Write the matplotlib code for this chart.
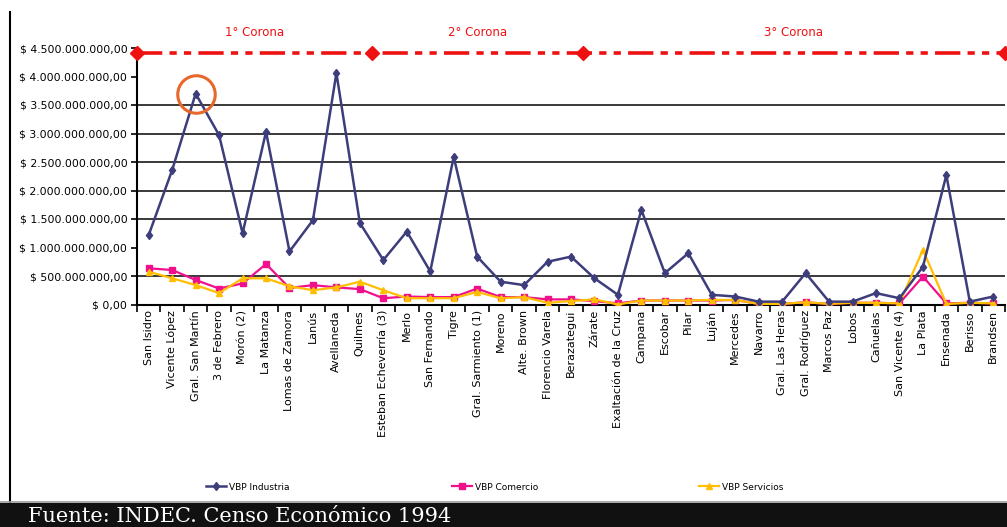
import matplotlib
matplotlib.use("Agg")
import matplotlib.pyplot as plt
from matplotlib.lines import Line2D
from matplotlib.patches import Rectangle
import numpy as np

# ---------------- data ----------------
categories = [
    "San Isidro", "Vicente López", "Gral. San Martín", "3 de Febrero", "Morón (2)",
    "La Matanza", "Lomas de Zamora", "Lanús", "Avellaneda", "Quilmes",
    "Esteban Echeverría (3)", "Merlo", "San Fernando", "Tigre", "Gral. Sarmiento (1)",
    "Moreno", "Alte. Brown", "Florencio Varela", "Berazategui",
    "Zárate", "Exaltación de la Cruz", "Campana", "Escobar", "Pilar", "Luján",
    "Mercedes", "Navarro", "Gral. Las Heras", "Gral. Rodríguez", "Marcos Paz",
    "Lobos", "Cañuelas", "San Vicente (4)", "La Plata", "Ensenada", "Berisso", "Brandsen",
]
vbp_industria = [1.22, 2.36, 3.70, 2.97, 1.25, 3.03, 0.93, 1.48, 4.06, 1.43,
                 0.78, 1.28, 0.58, 2.59, 0.84, 0.40, 0.34, 0.75, 0.84,
                 0.46, 0.17, 1.66, 0.55, 0.90, 0.17, 0.14, 0.05, 0.05, 0.55,
                 0.05, 0.05, 0.20, 0.11, 0.66, 2.27, 0.05, 0.14]
vbp_comercio = [0.635, 0.605, 0.43, 0.28, 0.37, 0.71, 0.29, 0.34, 0.30, 0.27,
                0.11, 0.14, 0.13, 0.13, 0.28, 0.13, 0.13, 0.09, 0.09,
                0.06, 0.02, 0.07, 0.07, 0.07, 0.07, 0.08, 0.01, 0.01, 0.04,
                0.01, 0.03, 0.03, 0.02, 0.49, 0.02, 0.03, 0.02]
vbp_servicios = [0.575, 0.46, 0.34, 0.20, 0.46, 0.46, 0.32, 0.25, 0.30, 0.40,
                 0.25, 0.11, 0.11, 0.11, 0.22, 0.11, 0.13, 0.03, 0.06,
                 0.09, 0.00, 0.07, 0.07, 0.07, 0.08, 0.08, 0.01, 0.01, 0.04,
                 0.01, 0.03, 0.03, 0.02, 0.96, 0.01, 0.03, 0.02]
series_names = ["VBP Industria", "VBP Comercio", "VBP Servicios"]
scale = 1e9

y_ticks = [0, 0.5, 1.0, 1.5, 2.0, 2.5, 3.0, 3.5, 4.0, 4.5]
grid_values = [0.5, 1.5, 2.0, 2.5, 3.0, 3.5]
corona_labels = ["1° Corona", "2° Corona", "3° Corona"]
corona_sizes = [10, 9, 18]
corona_line_level = 4.41
highlight_index = 2
source_text = "Fuente: INDEC. Censo Económico 1994"


def money(v):
    if v == 0:
        return "$ 0,00"
    n = int(round(v * scale))
    s = f"{n:,}".replace(",", ".")
    return f"$ {s},00"


# ---------------- figure ----------------
W, H = 1007, 527
fig = plt.figure(figsize=(W / 100, H / 100), dpi=100)
fig.patch.set_facecolor("white")

left_px, right_px = 137, 1005
bottom_px, top_px = 304.5, 48
ax = fig.add_axes([left_px / W, 1 - bottom_px / H,
                   (right_px - left_px) / W, (bottom_px - top_px) / H])

n = len(categories)
x = np.arange(n)
ax.set_xlim(-0.5, n - 0.5)
ax.set_ylim(0, 4.5 * scale)

for g in grid_values:
    ax.axhline(g * scale, color="#2a2a2a", lw=1.3, zorder=1)

navy = "#3d3d7c"
magenta = "#f0108c"
yellow = "#ffbf00"

ax.plot(x, np.array(vbp_industria) * scale, color=navy, lw=1.8, marker="d",
        ms=4.5, label=series_names[0], zorder=4)
ax.plot(x, np.array(vbp_comercio) * scale, color=magenta, lw=1.6, marker="s",
        ms=3.8, label=series_names[1], zorder=3)
ax.plot(x, np.array(vbp_servicios) * scale, color=yellow, lw=1.6, marker="^",
        ms=4.5, label=series_names[2], zorder=3)

# highlight circle
ax.plot([x[highlight_index]], [vbp_industria[highlight_index] * scale], marker="o",
        ms=27, mfc="none", mec="#e8672a", mew=2.2, zorder=5, clip_on=False)

# corona separator line
bounds = np.concatenate([[0], np.cumsum(corona_sizes)]) - 0.5
ax.plot([bounds[0], bounds[-1]], [corona_line_level * scale] * 2, color="#ee1111",
        lw=2.6, dashes=(7, 2, 2, 2, 2, 2), zorder=6, clip_on=False)
ax.plot(bounds, [corona_line_level * scale] * len(bounds), ls="none", marker="D",
        ms=7, color="#ee1111", zorder=7, clip_on=False)
for i, lab in enumerate(corona_labels):
    cx = (bounds[i] + bounds[i + 1]) / 2
    ax.text(cx, 4.78 * scale, lab, color="#ee1111", fontsize=8.5, ha="center",
            va="center", clip_on=False)

# axes styling
for s in ["top", "right"]:
    ax.spines[s].set_visible(False)
ax.spines["left"].set_bounds(0, corona_line_level * scale)
ax.spines["left"].set_linewidth(1.5)
ax.spines["bottom"].set_linewidth(1.5)

ax.set_yticks([v * scale for v in y_ticks])
ax.set_yticklabels([money(v) for v in y_ticks], fontsize=7.8)
ax.tick_params(axis="y", length=4, width=1.2, pad=3)

ax.set_xticks(x)
ax.set_xticklabels(categories, rotation=90, fontsize=8, va="top", ha="center")
ax.tick_params(axis="x", which="major", length=0, pad=4)
ax.set_xticks(np.arange(n + 1) - 0.5, minor=True)
ax.tick_params(axis="x", which="minor", length=5, width=1.2, direction="out")

# legend
handles = ax.get_legend_handles_labels()[0]
legend_x = [206, 452, 699]
for h, lab, lx in zip(handles, series_names, legend_x):
    fig.legend([h], [lab], loc="center left", bbox_to_anchor=(lx / W, 1 - 487 / H),
               frameon=False, fontsize=6.5, handlelength=2.2, handletextpad=0.3,
               borderpad=0, borderaxespad=0)

# frame line on left
fig.add_artist(Line2D([10 / W, 10 / W], [1 - 502 / H, 1 - 12 / H], color="black",
                      lw=1.5, transform=fig.transFigure))
# footer band
fig.add_artist(Rectangle((0, 0), 1, (H - 503) / H, transform=fig.transFigure,
                         facecolor="#111111", edgecolor="none"))
fig.add_artist(Line2D([0, 1], [1 - 502 / H] * 2, color="#999999", lw=1.2,
                      transform=fig.transFigure))
fig.text(28 / W, 5 / H, source_text, color="white", fontsize=15,
         family="DejaVu Serif", ha="left", va="baseline")

fig.savefig("out.png", dpi=100)
